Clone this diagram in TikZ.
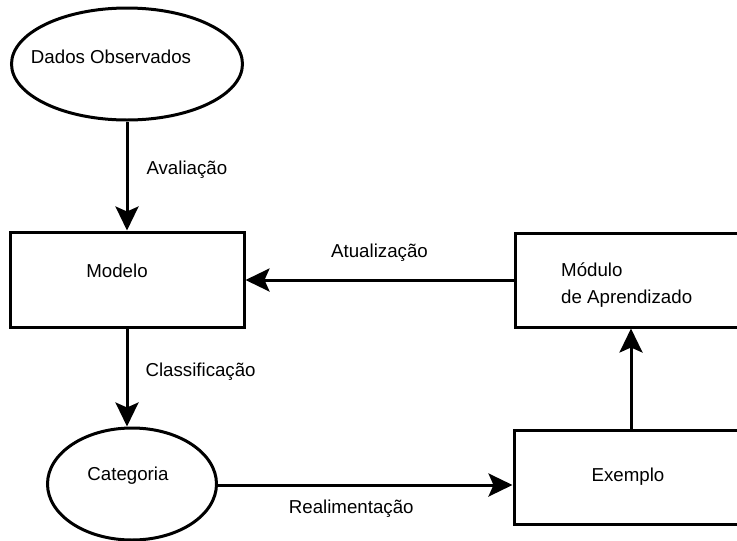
\documentclass[tikz,border=0pt]{standalone}
\usepackage{fontspec}
\setmainfont{Liberation Sans}
\usetikzlibrary{shapes.geometric,positioning,arrows.meta}

\begin{document}
\begin{tikzpicture}[x=1pt,y=-1pt,
    font=\fontsize{18.7}{27}\selectfont,
    every node/.style={inner sep=0pt},
    caixa/.style={draw,line width=3pt,minimum width=234pt,minimum height=95pt},
    bolha/.style={draw,ellipse,line width=3pt},
    seta/.style={line width=3pt,-{Stealth[length=24pt,width=23pt,inset=5pt]}}]
  \useasboundingbox (0,0) rectangle (737,541);

  % ellipses
  \node[bolha,minimum width=231pt,minimum height=112pt,
        label={[shift={(-16,-7)}]center:Dados Observados}] (dados) at (127,64) {};
  \node[bolha,minimum width=169pt,minimum height=112pt,
        label={[shift={(-4,-8)}]center:Categoria}] (categoria) at (132,484) {};

  % boxes (right ones run past the page edge)
  \node[caixa,label={[shift={(-10,-9)}]center:Modelo}] (modelo) at (127,279.5) {};
  \node[caixa,minimum height=94pt] (modulo) at (632,280) {};
  \node[align=left,anchor=north west] (moduloTxt) at (561,263) {Módulo\\de Aprendizado};
  \node[caixa,minimum height=94pt,label={[shift={(-3,0)}]center:Exemplo}] (exemplo) at (631,477) {};

  % arrows and labels
  \draw[seta] (dados) -- node[midway,anchor=west,xshift=18pt,yshift=6pt] {Avaliação} (modelo);
  \draw[seta] (modulo.west) -- node[midway,anchor=south,yshift=17pt] {Atualização} (modelo.east |- modulo.west);
  \draw[seta] (modelo.south) -- node[midway,anchor=west,xshift=17pt,yshift=6pt] {Classificação} (modelo.south |- categoria.north);
  \draw[seta] (exemplo.north) -- (exemplo.north |- modulo.south);
  \draw[seta] (categoria.east) ++(0,1) coordinate (catOut) -- node[midway,anchor=north,xshift=-14pt,yshift=-13pt] {Realimentação} (exemplo.west |- catOut);

\end{tikzpicture}
\end{document}
